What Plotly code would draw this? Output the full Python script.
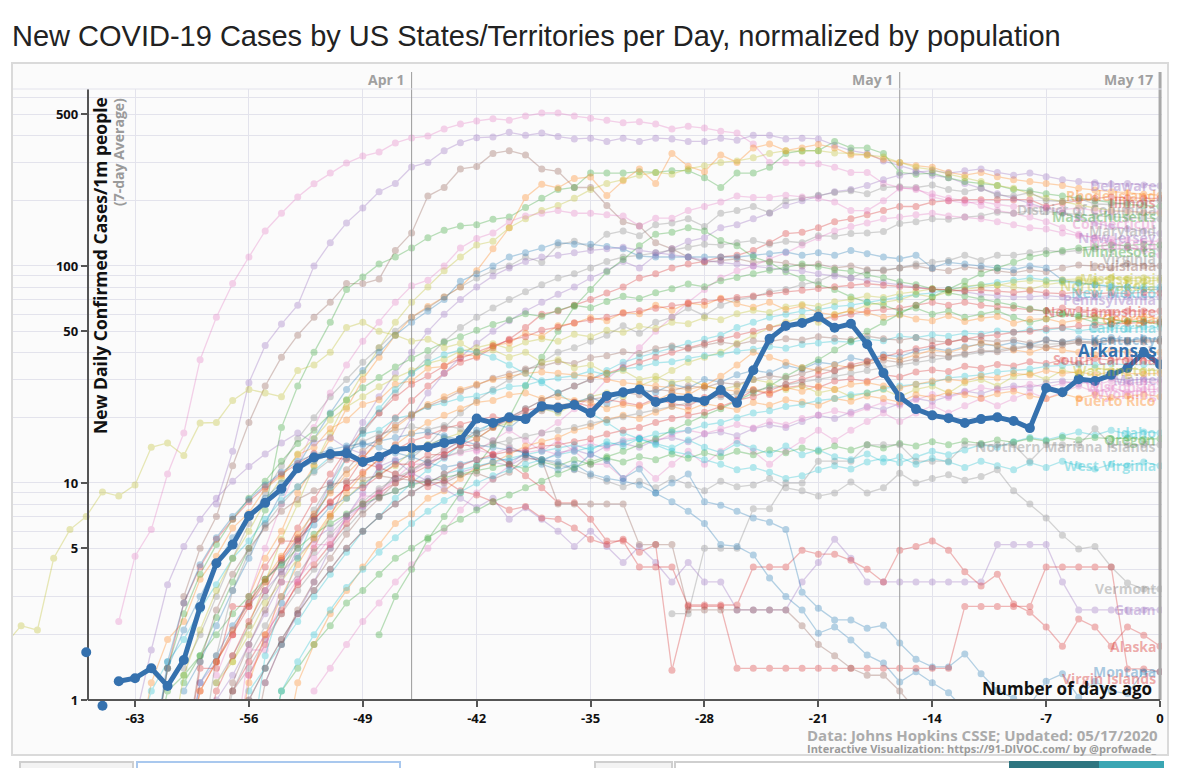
import math
import plotly.graph_objects as go

# ---------------- data ----------------
DAY_TICKS = [-63, -56, -49, -42, -35, -28, -21, -14, -7, 0]
Y_TICKS = [1, 5, 10, 50, 100, 500]
Y_MINOR = [2, 3, 4, 6, 7, 8, 9, 20, 30, 40, 60, 70, 80, 90, 200, 300, 400, 600]
DATE_MARK_DAYS = [-46, -16, 0]
DATE_MARK_TEXT = ["Apr 1", "May 1", "May 17"]

# each series: daily 7-day-average values ending at day 0 (today)
NEW_YORK = [2.3, 4.6, 6.1, 11, 17, 37, 58, 83, 110, 145, 175, 208, 239, 268, 298, 321, 335, 369, 389, 397, 428, 451, 466, 477, 470, 491, 507, 507, 491, 480, 470, 457, 462, 451, 428, 440, 432, 418, 410, 365, 300, 300, 298, 296, 285, 270, 270, 240, 230, 225, 215, 205, 200, 190, 180, 175, 168, 160, 150, 140, 135, 128, 122, 118, 112]
NEW_JERSEY = [8, 14, 29, 43, 54, 66, 100, 128, 158, 185, 220, 240, 286, 300, 340, 370, 390, 393, 413, 400, 410, 395, 385, 388, 375, 388, 375, 388, 385, 375, 375, 388, 380, 400, 400, 385, 388, 385, 360, 340, 330, 305, 290, 275, 262, 255, 240, 228, 215, 205, 195, 185, 175, 166, 158, 152, 148, 145, 141]
LOUISIANA = [3, 5, 7, 12, 19, 28, 38, 48, 58, 68, 83, 83, 87, 118, 142, 210, 230, 280, 287, 330, 340, 325, 280, 273, 230, 230, 190, 160, 153, 128, 120, 110, 104, 106, 108, 104, 105, 103, 100, 102, 98, 100, 96, 95, 98, 100, 97, 95, 99, 97, 95, 93, 96, 94, 98, 101, 100, 98, 102, 100, 100]
MASSACHUSETTS = [1.2, 1.6, 2.4, 3.5, 5, 7.5, 18, 28, 40, 55, 78, 89, 102, 110, 121, 135, 146, 153, 155, 164, 168, 186, 205, 225, 230, 268, 268, 268, 272, 270, 275, 275, 255, 230, 268, 268, 285, 330, 340, 340, 375, 350, 350, 330, 270, 265, 268, 255, 245, 240, 235, 225, 222, 215, 210, 205, 200, 196, 192, 190, 188]
RHODE_ISLAND = [1.5, 2, 3, 4.5, 6, 9, 12, 16, 22, 30, 38, 48, 58, 65, 72, 80, 95, 120, 150, 207, 238, 229, 253, 257, 211, 247, 280, 240, 330, 288, 272, 325, 300, 350, 365, 340, 350, 363, 350, 325, 325, 310, 300, 290, 285, 270, 262, 270, 258, 250, 245, 240, 235, 228, 224, 220, 218, 214, 212]
ILLINOIS = [1.3, 1.8, 2.5, 3.5, 5, 7, 10, 13, 16, 20, 24, 28, 32, 36, 38, 42, 46, 52, 60, 62, 66, 70, 75, 80, 88, 92, 98, 102, 105, 110, 112, 118, 128, 141, 143, 150, 160, 165, 172, 180, 188, 188, 197, 200, 202, 202, 202, 202, 202, 188, 195, 200, 205, 208, 206, 205, 205]
DELAWARE = [1.2, 1.8, 2.5, 3.5, 5, 7, 9, 12, 15, 20, 26, 32, 38, 44, 50, 56, 62, 68, 74, 80, 88, 95, 105, 98, 112, 120, 130, 135, 150, 155, 165, 175, 190, 200, 210, 220, 225, 235, 250, 262, 270, 275, 268, 275, 280, 270, 262, 268, 258, 250, 245, 242, 238, 240, 236, 234]
IOWA = [1.5, 2.2, 3.5, 5.5, 8, 12, 17, 24, 32, 42, 55, 68, 80, 95, 110, 125, 130, 150, 165, 180, 190, 205, 225, 240, 250, 262, 270, 265, 280, 290, 300, 305, 315, 330, 340, 338, 340, 332, 330, 325, 318, 300, 285, 278, 265, 255, 245, 235, 228, 215, 205, 198, 190, 185, 180, 178, 176, 175]
DISTRICT_OF_COLUMBIA = [1.4, 2, 3, 4.5, 6.5, 9, 12, 16, 20, 25, 30, 36, 42, 50, 58, 64, 72, 80, 88, 95, 100, 110, 104, 125, 130, 122, 140, 145, 138, 155, 158, 165, 152, 175, 180, 188, 176, 200, 205, 212, 218, 222, 215, 230, 232, 230, 236, 225, 220, 228, 212, 210, 218, 200, 198, 205, 193, 192, 196, 198, 200]
MARYLAND = [1.2, 1.6, 2.2, 3, 4, 5.5, 7.5, 10, 13, 17, 21, 26, 32, 38, 45, 52, 58, 64, 70, 76, 82, 88, 92, 98, 105, 110, 112, 115, 118, 122, 126, 125, 128, 131, 126, 130, 128, 138, 137, 141, 142, 144, 157, 160, 165, 164, 168, 170, 177, 175, 180, 178, 176, 172, 170, 168, 167, 166, 165]
NEBRASKA = [1.1, 1.4, 1.8, 2.3, 2.8, 3.5, 4.2, 5, 6, 7.5, 9, 10.5, 12, 14, 17, 19, 22, 25, 30, 35, 42, 50, 58, 68, 78, 88, 95, 100, 108, 115, 125, 135, 145, 152, 158, 165, 168, 172, 175, 170, 168, 165, 160, 155, 150, 148, 142, 138, 135, 133, 132, 130, 130]
CONNECTICUT = [1.3, 2, 3, 5, 8, 12, 18, 26, 35, 45, 55, 68, 81, 86, 100, 121, 134, 142, 160, 170, 175, 180, 175, 175, 172, 170, 153, 166, 166, 180, 188, 197, 210, 207, 207, 212, 208, 205, 197, 180, 180, 200, 228, 228, 208, 200, 195, 198, 192, 188, 190, 185, 182, 185, 180, 178, 180, 176, 178]
MICHIGAN = [1.1, 1.5, 2.2, 3.2, 4.5, 6.5, 9, 12, 16, 21, 27, 33, 40, 48, 55, 62, 70, 85, 92, 100, 110, 115, 121, 128, 126, 126, 123, 120, 111, 110, 110, 110, 110, 110, 110, 112, 114, 116, 112, 115, 112, 118, 114, 110, 108, 112, 98, 104, 102, 100, 98, 96, 100, 98, 86, 84, 82, 80, 80, 78, 78]
SOUTH_DAKOTA = [2, 3, 4, 5.5, 7, 9, 12, 15, 20, 28, 38, 50, 65, 78, 94, 107, 124, 140, 143, 150, 145, 131, 124, 110, 104, 94, 88, 82, 78, 72, 68, 66, 62, 64, 60, 62, 58, 60, 62, 58, 55, 57, 60, 58, 55, 54, 56, 55, 54]
VIRGINIA = [1.1, 1.4, 1.9, 2.5, 3.2, 4, 5, 6.2, 7.5, 9, 11, 13, 15, 18, 21, 24, 27, 30, 33, 36, 40, 42, 45, 48, 53, 49, 55, 58, 64, 59, 66, 70, 72, 76, 78, 82, 85, 92, 88, 95, 96, 98, 102, 104, 106, 112, 106, 112, 112, 115, 118, 116, 118, 120, 119, 121, 120, 120]
NORTH_DAKOTA = [1.2, 1.5, 2, 2.8, 3.5, 4.5, 5.5, 7, 8.5, 10, 11, 12, 14, 15, 16, 17, 16, 18, 19, 20, 22, 21, 23, 25, 26, 25, 28, 30, 33, 36, 38, 40, 44, 48, 52, 55, 58, 55, 60, 62, 66, 68, 70, 74, 72, 76, 78, 80, 82, 80, 78, 82, 84, 86, 85, 88, 86, 85, 86]
NEW_MEXICO = [1.1, 1.4, 1.8, 2.3, 3, 3.8, 4.8, 6, 7, 8.5, 10, 11.5, 13, 15, 17, 19, 20, 22, 24, 26, 28, 30, 33, 36, 38, 40, 42, 44, 46, 48, 52, 55, 58, 60, 62, 63, 65, 66, 68, 70, 72, 74, 75, 78, 80, 82, 84, 86, 88, 86, 85, 83, 82, 81, 80, 80, 80]
PENNSYLVANIA = [1, 1.3, 1.8, 2.5, 3.5, 5, 7, 10, 14, 19, 25, 32, 40, 50, 60, 70, 80, 90, 98, 105, 110, 112, 115, 118, 120, 122, 118, 115, 112, 110, 106, 104, 102, 100, 98, 96, 95, 92, 90, 88, 86, 84, 82, 80, 78, 78, 76, 74, 73, 72, 72, 73, 72, 71, 72, 73, 72, 72, 72]
NEW_HAMPSHIRE = [1.1, 1.5, 2, 2.6, 3.4, 4.2, 5.2, 6.5, 8, 9, 10, 11, 12, 13.5, 15, 16, 18, 20, 22, 24, 26, 28, 30, 32, 34, 36, 38, 40, 42, 44, 46, 48, 50, 52, 54, 55, 57, 58, 60, 62, 63, 64, 66, 68, 66, 68, 66, 65, 64, 63, 62, 64, 63, 62, 61, 62, 62, 62]
GEORGIA = [0.5, 1.2, 1.9, 2.3, 3.6, 4.6, 6.2, 7.3, 9.4, 10.8, 13.5, 14.6, 17.8, 19.5, 23, 24.2, 28.5, 29.6, 33.8, 34.5, 39, 38.5, 43, 44.2, 49, 47.5, 53, 54.5, 57.8, 56, 61, 60.2, 66, 62.5, 67.5, 66, 71, 67, 64.5, 68, 63, 65.5, 61, 59.5, 62.5, 60.8, 58, 59.5, 57, 56, 59, 55.5, 57.5, 58.5, 54.5, 56.8, 57.2, 54.8, 56.5, 58.5, 56.5, 55.8, 58.2, 57]
CALIFORNIA = [0.6, 1.1, 1.5, 1.9, 2.6, 3.4, 4.5, 5.4, 6.8, 8.3, 9.6, 11.4, 13.2, 14.5, 16.8, 17.5, 19.8, 20.6, 22.5, 23.4, 24.6, 25.2, 26.5, 27.8, 28.2, 29.6, 30.5, 31.2, 32.8, 31.5, 33.6, 34.2, 35.8, 36.2, 37.5, 38.6, 39.2, 40.5, 41.3, 42.6, 41.8, 43.5, 44.2, 45, 44.6, 46, 45.2, 47.5, 46.8, 48.2, 47.5, 49, 48.5, 50.2, 49.5, 51, 50.5, 51.8, 50.2, 51.5, 52, 51.2, 52.4, 52]
KENTUCKY = [0.5, 1.2, 1.6, 2.2, 2.8, 3.6, 4.3, 5.5, 6.4, 7.8, 8.5, 9.8, 11.2, 12.6, 13.5, 14.8, 16.2, 15.6, 17.5, 18.8, 17.9, 20.5, 22, 21.4, 23.5, 24.8, 23.2, 25.6, 27, 26.2, 28.5, 27.4, 30, 29.2, 31.5, 33, 32.2, 34.8, 33.5, 36, 35.2, 37.8, 36.5, 39, 38.2, 40.5, 41.8, 40.6, 42.5, 43.6, 42.8, 44.5, 43.2, 45.8, 44.6, 46.2, 45.5, 46.8, 45.2, 46.5, 46]
MISSISSIPPI = [0.5, 1.3, 2.1, 3.2, 4.5, 6, 8.2, 10.5, 13.6, 16, 19.5, 22.4, 25, 27.8, 30.5, 33, 35.6, 37.2, 40.5, 42, 43.8, 41.5, 44.6, 46.2, 45, 48.5, 47.2, 50.6, 49.5, 52.8, 51.5, 55, 54.2, 57.8, 56.5, 60.2, 62.5, 61, 64.8, 66.5, 65.2, 68.5, 70.2, 72.8, 71.5, 74.6, 76.2, 78.5, 77.2, 80.6, 82, 81.5, 84.2, 85.6, 84.8, 86.5, 87.2, 86.8, 88.5, 87.6, 88.2, 88]
COLORADO = [0.5, 1.4, 2.5, 3.8, 5.2, 6.8, 8.5, 10.2, 12.6, 15.2, 17.5, 20.8, 24.2, 27.5, 30.6, 34.2, 37.5, 40.8, 44.5, 47.2, 50.6, 53.8, 56.5, 60.2, 58.6, 62.5, 65.8, 64.2, 68.6, 72.5, 70.8, 75.2, 78.5, 82.6, 80.2, 85.5, 88.6, 92.2, 95.5, 98.6, 102, 99.5, 96.2, 94.5, 90.8, 88.2, 84.5, 82, 78.6, 75.2, 72.8, 70.5, 68.2, 65.8, 63.5, 62.2, 60.5, 59.2, 57.8, 56.5, 55.2, 56, 55.4]
INDIANA = [0.5, 1.1, 1.6, 2.3, 3.2, 4.5, 6.2, 8.4, 11, 14.2, 17.5, 21, 24.8, 28.5, 31.2, 34.6, 37.5, 40.2, 42.8, 45.5, 47.2, 50.6, 52.2, 54.8, 56.5, 58, 60.5, 62.2, 63.8, 65.5, 67, 68.6, 70.2, 71.5, 72.8, 74.5, 76, 77.2, 78.8, 80.2, 81.5, 82.8, 81.6, 80.4, 79.5, 78.2, 77.6, 76.8, 77.5, 76.2, 75.5, 76.8, 75.2, 74.6, 75.8, 74.5, 75.2, 74.8, 75.5, 75]
OHIO = [0.5, 1.2, 1.8, 2.6, 3.8, 5.2, 7, 9.2, 11.5, 14, 16.2, 18.5, 20.8, 22.6, 24.2, 26.5, 28.2, 30.4, 31.8, 33.5, 34.6, 36.2, 35.5, 37.8, 38.6, 40.2, 39.5, 41.6, 42.8, 41.5, 43.2, 44.6, 43.5, 45.2, 44.8, 46.2, 45.6, 47.2, 46.5, 45.8, 47.5, 46.2, 45.5, 46.8, 45.2, 44.6, 46.2, 45.5, 44.8, 45.6, 44.2, 45.5, 44.6, 45.2, 44.5, 45.8, 45.2, 44.6, 45]
SOUTH_CAROLINA = [0.5, 1.1, 1.5, 2, 2.7, 3.5, 4.4, 5.6, 6.8, 8.2, 9.5, 11.2, 12.8, 14.2, 15.6, 16.5, 17.8, 18.6, 19.5, 20.2, 19.6, 21.5, 22.4, 21.8, 23.6, 22.5, 24.2, 23.5, 22.8, 24.5, 23.2, 22.6, 24.8, 25.5, 24.2, 26.8, 25.6, 27.5, 28.2, 27.6, 29.5, 30.2, 29.4, 31.6, 30.8, 32.5, 33.2, 32.6, 34.5, 33.8, 35.2, 34.6, 36.2, 35.5, 36.8, 35.6, 37.5, 36.8, 37.2, 36.5, 37]
WASHINGTON = [1.8, 2.2, 2.1, 4.5, 6.1, 7.0, 9.1, 8.7, 9.8, 14.6, 15.3, 13.4, 18.9, 19, 24, 27, 26, 25, 33, 35, 40, 52, 55, 50, 48, 45, 46, 42, 44, 40, 41, 38, 40, 36, 37, 34, 35, 32, 33, 30, 31, 29, 30, 28, 27, 28, 30, 29, 27, 28, 26, 27, 25, 26, 27, 25, 27, 28, 26, 29, 30, 28, 31, 32, 30, 33, 32, 34, 33, 34, 33, 33]
MAINE = [0.5, 1.2, 1.5, 2.1, 2.8, 3.2, 3.9, 4.6, 5.5, 6.2, 7.1, 7.8, 8.6, 9.2, 9.8, 10.5, 10.2, 11.2, 11.8, 12.5, 12, 13.2, 12.6, 13.8, 14.2, 13.5, 14.8, 15.2, 14.6, 15.8, 16.2, 15.5, 16.8, 17.2, 16.5, 17.8, 18.5, 18, 19.2, 20.5, 19.8, 21.2, 22.5, 21.8, 23.2, 24.5, 23.8, 25.2, 26.5, 25.8, 27.2, 28, 27.5, 28.8, 29.5, 28.6, 29.8, 30.5, 29.6, 30.2, 30]
WISCONSIN = [0.5, 1.3, 1.9, 2.8, 3.6, 4.5, 5.6, 6.8, 7.9, 9.2, 10.4, 11.2, 12.5, 13.1, 13.8, 14.2, 13.6, 14.5, 13.8, 14.2, 13.5, 14.6, 15.2, 14.5, 15.8, 16.2, 15.5, 16.8, 17.5, 16.9, 17.8, 18.6, 17.9, 19.2, 18.5, 19.8, 20.6, 21.5, 20.8, 22.2, 23.5, 22.8, 24.2, 25.6, 24.8, 26.2, 27.5, 26.8, 27.2, 28.5, 27.6, 28.8, 29.5, 28.2, 29.6, 28.8, 29.2, 29]
WYOMING = [0.5, 1.7, 1.7, 3.5, 3.5, 5.2, 5.2, 7, 8.7, 8.7, 10.5, 12.2, 12.2, 14, 15.7, 14, 15.7, 17.5, 15.7, 14, 15.7, 14, 12.2, 12.2, 10.5, 12.2, 10.5, 12.2, 14, 12.2, 14, 15.7, 14, 12.2, 14, 15.7, 17.5, 15.7, 17.5, 19.2, 21, 19.2, 21, 22.7, 21, 22.7, 24.5, 22.7, 24.5, 26.2, 24.5, 26.2, 28, 26.2, 27.5, 26.2, 27, 27]
PUERTO_RICO = [0.5, 1.2, 1.8, 2.5, 3.2, 4.1, 5.2, 6.5, 7.2, 8.5, 9.2, 10.5, 11.8, 12.4, 13.5, 14.8, 15.5, 16.2, 17.5, 18.2, 19.6, 20.5, 19.8, 21.2, 22.5, 21.6, 23.2, 22.5, 21.8, 23.5, 22.8, 24.2, 23.6, 22.8, 24.5, 23.8, 25.2, 24.5, 23.6, 25.5, 24.8, 26.2, 25.5, 24.6, 25.8, 26.5, 25.2, 24.5, 25.8, 24.6, 25.5, 24.8, 25.2, 25.6, 25]
IDAHO = [0.5, 1.6, 2.8, 4.5, 6.8, 9.5, 13, 17.5, 22, 27, 32, 36, 39, 41, 40, 38, 35, 32, 29, 26, 23, 21, 19, 17, 16, 15, 14, 13.5, 12.8, 12.2, 11.5, 11.8, 11.2, 10.5, 10.8, 11.5, 12, 11.6, 12.5, 13, 12.4, 13.2, 14, 13.5, 14.2, 15, 14.6, 15.5, 16.2, 15.8, 16.5, 17.2, 16.6, 17.5, 16.8, 17.2, 17]
OREGON = [0.5, 1.1, 1.3, 1.6, 2, 2.5, 3, 3.6, 4.2, 5, 5.8, 6.5, 7.2, 8, 8.6, 9.2, 9.8, 10.2, 10.6, 11, 11.4, 11.8, 12.2, 11.6, 12.5, 12, 12.8, 12.2, 13, 12.5, 13.2, 12.8, 13.6, 13, 13.8, 13.2, 14, 13.5, 14.2, 13.8, 14.5, 14, 14.8, 14.2, 15, 14.5, 15.2, 14.8, 15.5, 15, 15.6, 15.2, 15.8, 15.4, 16, 15.6, 16.2, 15.8, 16.2, 16, 16.1, 15.9, 16]
NORTHERN_MARIANA = [2.5, 2.5, 5, 5, 5, 7.6, 7.6, 10, 10, 12.6, 12.6, 12.6, 15, 15, 15, 12.6, 12.6, 12.6, 15, 15, 15, 15, 12.6, 15, 15, 15, 17.8, 15, 15, 15, 15]
WEST_VIRGINIA = [0.5, 1, 1.4, 1.9, 2.5, 3.2, 4, 5, 6, 7, 8, 9, 10, 11, 11.5, 12, 12.5, 13, 13.5, 14, 14.5, 15, 14.2, 15.5, 14.8, 16, 15.2, 14.5, 15.8, 14.6, 13.8, 15.2, 14.5, 13.6, 14.8, 13.5, 14.2, 13.2, 12.8, 13.6, 12.5, 13.2, 12.2, 13, 12.5, 11.8, 12.6, 12, 11.5, 12.4, 11.8, 12.6, 12, 11.6, 12.2, 12, 12.5, 12]
VERMONT = [0.5, 1.6, 3.2, 4.8, 6.4, 8, 9.6, 11.2, 12.8, 14.4, 15.5, 16.8, 17.5, 18.2, 17.6, 18.4, 17.8, 16.8, 15.6, 14.8, 13.6, 12.8, 12.2, 11.5, 10.8, 10.2, 9.6, 10.2, 9.5, 10.5, 9.8, 9.2, 10.2, 9.6, 9.8, 10.5, 9.5, 9.2, 8.7, 9.0, 10.1, 9.0, 9.5, 11.1, 10, 10.5, 10.9, 10.3, 10.7, 11.5, 9.2, 8, 6.9, 5.75, 4.97, 5.1, 4.1, 3.46, 3.25, 3.25]
GUAM = [0.8, 1.7, 3.4, 5.1, 6.8, 8.5, 10.2, 11.9, 13.6, 15.3, 17, 15.3, 16.2, 14.5, 13.6, 11.9, 12.8, 11.1, 10.2, 9.4, 8.5, 7.7, 8.5, 6.8, 7.7, 6.8, 6, 5.1, 6, 5.1, 4.3, 5.1, 4.3, 3.5, 4.3, 3.5, 3.5, 2.6, 2.6, 2.6, 2.6, 3.5, 4.3, 5.5, 4.5, 3.5, 3.5, 3.5, 3.5, 3.5, 3.5, 3.5, 3.5, 5.2, 5.2, 5.2, 5.2, 3.5, 2.6, 2.6, 2.6, 2.6, 2.6, 2.6]
ALASKA = [0.5, 1.4, 2.8, 4.1, 5.5, 6.8, 8.2, 9.6, 11, 12.3, 13.7, 13.2, 12.8, 12.3, 11.8, 11, 10.5, 9.6, 10.3, 9.2, 8.8, 8.2, 7.5, 7.8, 6.9, 6.8, 6.2, 5.5, 5.2, 5.5, 4.8, 5.2, 1.37, 2.74, 2.74, 2.74, 2.74, 4.1, 4.1, 4.1, 4.9, 4.7, 4.7, 4.4, 4.0, 3.5, 4.9, 5.1, 5.4, 4.9, 3.9, 3.35, 3.8, 2.77, 2.54, 2.17, 1.77, 2.36, 2.17, 1.77, 2.17, 1.99, 1.77]
MONTANA = [0.5, 1.5, 2.8, 4.2, 5.6, 7, 8.4, 9.8, 11.2, 12.6, 13.5, 14.2, 14.8, 15.2, 14.6, 13.8, 13.2, 12.4, 11.8, 12.2, 12.8, 13.2, 12.6, 13.5, 12.8, 12.5, 11.6, 13.6, 12.7, 10.5, 11.6, 9.0, 10, 11, 8.2, 7.9, 7.4, 6.9, 6.6, 6.1, 3.14, 2.65, 2.34, 2.34, 2.14, 2.21, 1.83, 1.54, 1.42, 1.42, 1.63, 1.32, 1.11, 1.02, 0.95, 1.22, 1.32, 1.03, 1.22, 1.1, 1.07, 1.35, 1.35]
HAWAII = [0.5, 1.4, 2.1, 3, 4.2, 5.6, 7, 8.5, 10, 11.5, 12.6, 13.5, 14.2, 15, 15.6, 16.2, 16.8, 17.2, 16.5, 15.8, 15, 14.6, 14.2, 13.8, 12.2, 11.5, 12.2, 11.0, 10.5, 10.2, 9.8, 9.0, 8.2, 7.4, 6.5, 5.2, 5.1, 4.66, 3.65, 3.0, 2.6, 2.03, 2.17, 1.89, 1.61, 1.48, 1.21, 1.35, 1.2, 1.08, 0.9, 0.8, 0.7, 0.75, 0.6, 0.7, 0.65, 0.6, 0.7, 0.6, 0.55, 0.6, 0.5]
VIRGIN_ISLANDS = [0.5, 1.4, 1.4, 2.7, 2.7, 4.1, 5.4, 5.4, 6.8, 8.1, 9.5, 9.5, 10.8, 12.2, 12.2, 13.5, 13.5, 14.9, 14.9, 13.5, 12.2, 10.8, 9.5, 8.1, 8.1, 6.8, 5.4, 5.4, 4.1, 4.1, 4.1, 2.7, 2.7, 2.7, 1.4, 1.4, 1.4, 1.4, 1.4, 1.4, 1.4, 1.4, 1.4, 1.4, 1.4, 1.4, 1.4, 1.4, 2.7, 2.7, 2.7, 2.7, 2.7, 4.1, 4.1, 4.1, 4.1, 4.1, 1.39, 1.39, 1.35]
ALABAMA = [0.5, 1.5, 2.6, 3.8, 5, 6.2, 7.4, 8.4, 9.2, 9.8, 10.2, 10.5, 10.8, 10.5, 10.3, 10.1, 10, 10.9, 11.1, 10.4, 11.2, 13.0, 12.8, 8, 8, 8, 8, 8, 5.2, 5.2, 5.2, 2.6, 2.6, 2.6, 2.6, 2.6, 2.6, 2.6, 2.2, 1.8, 1.6, 1.4, 1.3, 1.3, 1.1, 0.9, 0.8, 0.8, 0.7, 0.6, 0.6, 0.7, 0.6, 0.5, 0.5, 0.6, 0.5, 0.5, 0.5, 0.5, 0.5]
MINNESOTA = [0.5, 1.1, 1.4, 1.8, 2.2, 2.8, 3.2, 3.8, 4.5, 5, 5.6, 6.2, 6.8, 7.5, 8.2, 8.8, 9.5, 10.2, 11, 11.8, 12.5, 13.2, 14, 15, 16, 17.5, 19, 20.5, 22, 24, 26, 28, 31, 34, 37, 41, 45, 50, 55, 60, 66, 72, 78, 85, 92, 98, 104, 110, 114, 118, 121, 123, 125, 124, 126, 125]
TENNESSEE = [0.5, 1.2, 2, 3, 4.2, 5.6, 7.2, 9, 11, 13, 15, 17, 19, 20.5, 22, 23.5, 24, 25.5, 26, 24.5, 25, 24, 23.5, 22, 23, 22.5, 24, 26, 25.5, 28, 31, 35, 40, 38, 36, 34, 33, 35, 34, 36, 38, 37, 39, 41, 40, 42, 44, 43, 41, 40, 42, 41, 40, 39, 41, 40, 40, 40]
TEXAS = [0.5, 1.1, 1.5, 2, 2.6, 3.3, 4, 4.8, 5.6, 6.5, 7.4, 8.3, 9.1, 10, 10.8, 11.5, 12.2, 12.8, 13.5, 14, 14.6, 15, 15.5, 16, 16.8, 17.2, 17.5, 18.5, 19, 20, 21, 21.5, 22.5, 23, 24, 24.5, 25.5, 26, 27.2, 28, 28.5, 29, 30.5, 31, 31.5, 32.5, 33, 33.5, 34.5, 34.8, 35.2, 35, 35.5, 35, 35.2, 35]
FLORIDA = [0.5, 1.1, 1.5, 2.1, 2.8, 3.6, 4.6, 5.8, 7.2, 9, 11, 13, 15.5, 18, 20.5, 23, 25, 27, 28.5, 30, 31, 32, 32.5, 32, 31.5, 31, 30, 29, 28.5, 28, 27.5, 27, 28, 27, 26.5, 27, 26, 27.5, 26.5, 28, 27, 28.5, 29, 28, 27.5, 28.5, 29.5, 30, 29.5, 31, 30.5, 32, 31.5, 33, 32, 32.5, 31.5, 32.5, 32, 31.8, 32]
ARIZONA = [0.5, 1, 1.4, 1.9, 2.5, 3.2, 4, 5, 6, 7, 8, 9, 10, 11, 12, 12.8, 13.5, 14, 14.2, 14.8, 15, 15.5, 16, 16.8, 17.5, 18, 19, 19.8, 20.5, 21.2, 22.5, 24, 25, 26.8, 28.5, 30, 31.5, 33, 35, 36.5, 38, 40, 41.5, 43, 44.5, 46, 47.5, 48.2, 49.5, 50, 51.5, 52, 53, 53.5, 54, 54.5, 55, 55]
UTAH = [0.5, 1.2, 1.8, 2.6, 3.5, 4.5, 5.8, 7.2, 8.5, 10, 11.5, 12.8, 14.2, 15.5, 17, 18.2, 19.5, 20.5, 21.5, 22.8, 23.5, 24.2, 25, 26.2, 25.5, 27, 26.5, 28, 27.5, 29, 28.5, 30, 31.2, 30.5, 32, 33.5, 32.8, 34.5, 35.2, 36.8, 36, 37.5, 38.8, 38.2, 39.5, 40.8, 40.2, 41.5, 42.6, 42, 43.2, 44.5, 43.8, 45.2, 44.5, 45.5, 45]
NORTH_CAROLINA = [0.5, 1.1, 1.6, 2.2, 3, 3.8, 4.8, 5.8, 7, 8.2, 9.4, 10.5, 11.5, 12.4, 13.2, 14, 14.6, 15.2, 15.8, 16.4, 17, 17.5, 18, 18.8, 19.5, 20.2, 21, 21.8, 22.6, 23.4, 24.2, 25, 25.8, 26.6, 27.5, 28.4, 29.2, 30, 31, 32, 33, 34, 35, 36, 37, 38, 39, 40, 41, 42, 43, 43.5, 44, 44.5, 45, 45.2, 45.5, 45.8, 46]

ARKANSAS_FIRST_DAY = -66
ARKANSAS = [1.66, 0.94, 1.22, 1.26, 1.40, 1.16, 1.53, 2.68, 4.27, 5.2, 7.05, 8.1, 9.4, 11.7, 13.1, 13.6, 13.7, 12.5, 13.2, 14.3, 14.5, 14.6, 15.3, 15.8, 19.8, 18.9, 20.1, 19.7, 22.6, 22.2, 22.9, 21.0, 25.2, 26.2, 27.0, 23.6, 24.6, 24.6, 23.9, 26.8, 23.4, 33.1, 46.2, 52.9, 54.6, 58.3, 51.9, 54.2, 43.6, 32.1, 24.9, 21.9, 20.5, 19.9, 18.9, 19.7, 20.1, 19.3, 17.9, 27.4, 26.2, 30.1, 29.5, 31.5, 33.9, 39.9, 35.2]
ARKANSAS_LINE_FROM = -64

SERIES = [
    ("New York", NEW_YORK), ("New Jersey", NEW_JERSEY), ("Louisiana", LOUISIANA),
    ("Massachusetts", MASSACHUSETTS), ("Rhode Island", RHODE_ISLAND), ("Illinois", ILLINOIS),
    ("Delaware", DELAWARE), ("Iowa", IOWA), ("District of Columbia", DISTRICT_OF_COLUMBIA),
    ("Maryland", MARYLAND), ("Nebraska", NEBRASKA), ("Connecticut", CONNECTICUT),
    ("Michigan", MICHIGAN), ("South Dakota", SOUTH_DAKOTA), ("Virginia", VIRGINIA),
    ("North Dakota", NORTH_DAKOTA), ("New Mexico", NEW_MEXICO), ("Pennsylvania", PENNSYLVANIA),
    ("New Hampshire", NEW_HAMPSHIRE), ("Georgia", GEORGIA), ("California", CALIFORNIA),
    ("Kentucky", KENTUCKY), ("Mississippi", MISSISSIPPI), ("Colorado", COLORADO),
    ("Indiana", INDIANA), ("Ohio", OHIO), ("South Carolina", SOUTH_CAROLINA),
    ("Washington", WASHINGTON), ("Maine", MAINE), ("Wisconsin", WISCONSIN),
    ("Wyoming", WYOMING), ("Puerto Rico", PUERTO_RICO), ("Idaho", IDAHO),
    ("Oregon", OREGON), ("Northern Mariana Islands", NORTHERN_MARIANA),
    ("West Virginia", WEST_VIRGINIA), ("Vermont", VERMONT), ("Guam", GUAM),
    ("Alaska", ALASKA), ("Montana", MONTANA), ("Hawaii", HAWAII),
    ("Virgin Islands", VIRGIN_ISLANDS), ("Alabama", ALABAMA), ("Minnesota", MINNESOTA),
    ("Tennessee", TENNESSEE), ("Texas", TEXAS), ("Florida", FLORIDA),
    ("Arizona", ARIZONA), ("Utah", UTAH), ("North Carolina", NORTH_CAROLINA),
]

LABELLED = ["Delaware", "Rhode Island", "Illinois", "District of Columbia", "Massachusetts",
            "Connecticut", "Maryland", "New Jersey", "Minnesota", "Nebraska", "Virginia",
            "Louisiana", "Mississippi", "North Dakota", "New Mexico", "Pennsylvania",
            "Georgia", "New Hampshire", "California", "Kentucky", "South Carolina",
            "Washington", "Maine", "Wisconsin", "Wyoming", "Puerto Rico", "Idaho", "Oregon",
            "Northern Mariana Islands", "West Virginia", "Vermont", "Guam", "Alaska",
            "Montana", "Virgin Islands"]

# ---------------- styles ----------------
C10 = {"blue": "#1f77b4", "orange": "#ff7f0e", "green": "#2ca02c", "red": "#d62728",
       "purple": "#9467bd", "brown": "#8c564b", "pink": "#e377c2", "grey": "#7f7f7f",
       "olive": "#bcbd22", "cyan": "#17becf"}
COLOR_OF = {
    "New York": "pink", "New Jersey": "purple", "Louisiana": "brown", "Massachusetts": "green",
    "Rhode Island": "orange", "Illinois": "red", "Delaware": "purple", "Iowa": "olive",
    "District of Columbia": "grey", "Maryland": "grey", "Nebraska": "pink", "Connecticut": "pink",
    "Michigan": "blue", "South Dakota": "green", "Virginia": "grey", "North Dakota": "olive",
    "New Mexico": "cyan", "Pennsylvania": "purple", "New Hampshire": "red", "Georgia": "orange",
    "California": "cyan", "Kentucky": "blue", "Mississippi": "olive", "Colorado": "green",
    "Indiana": "red", "Ohio": "brown", "South Carolina": "red", "Washington": "olive",
    "Maine": "purple", "Wisconsin": "pink", "Wyoming": "pink", "Puerto Rico": "orange",
    "Idaho": "cyan", "Oregon": "green", "Northern Mariana Islands": "grey",
    "West Virginia": "cyan", "Vermont": "grey", "Guam": "purple", "Alaska": "red",
    "Montana": "blue", "Hawaii": "blue", "Virgin Islands": "red", "Alabama": "brown",
    "Minnesota": "green", "Tennessee": "orange", "Texas": "cyan", "Florida": "orange",
    "Arizona": "red", "Utah": "brown", "North Carolina": "grey",
}
ARK_COLOR = "#3571ae"
GRID = "#e3e3ec"
AXIS = "#555555"
FONT = "Open Sans"


def rgba(hexc, a):
    h = hexc.lstrip("#")
    return "rgba(%d,%d,%d,%.2f)" % (int(h[0:2], 16), int(h[2:4], 16), int(h[4:6], 16), a)


# ---------------- geometry ----------------
W, H = 1200, 768
ML, MR, MT, MB = 13, 38, 89, 68
X_MIN, X_MAX = -70.5, 0.12
Y_TOP = 654
Y_AXIS_DAY = -65.9
PLOT_H = H - MT - MB
PLOT_W = W - ML - MR
PPD = PLOT_H / math.log10(Y_TOP)  # pixels per decade
BOTTOM_PX = H - MB


def px_to_paper_y(py):
    return (BOTTOM_PX - py) / PLOT_H


def px_to_paper_x(px):
    return (px - ML) / PLOT_W


fig = go.Figure()

for name, vals in SERIES:
    days = list(range(1 - len(vals), 1))
    c = C10[COLOR_OF[name]]
    fig.add_trace(go.Scatter(
        x=days, y=vals, mode="lines+markers", name=name,
        line=dict(color=c, width=1.3), marker=dict(color=c, size=7),
        opacity=0.32, hoverinfo="skip", showlegend=False))

annotations = []
shapes = []

ark_days = list(range(ARKANSAS_FIRST_DAY, ARKANSAS_FIRST_DAY + len(ARKANSAS)))
line_days = [d for d in ark_days if d >= ARKANSAS_LINE_FROM]
line_vals = [v for d, v in zip(ark_days, ARKANSAS) if d >= ARKANSAS_LINE_FROM]
fig.add_trace(go.Scatter(x=line_days, y=line_vals, mode="lines+markers", name="Arkansas",
                         line=dict(color=ARK_COLOR, width=5), marker=dict(color=ARK_COLOR, size=10),
                         showlegend=False, hoverinfo="skip"))
# early, unconnected Arkansas points (one lies below the axis floor, so draw as pixel circles)
for d, v in zip(ark_days, ARKANSAS):
    if d < ARKANSAS_LINE_FROM:
        shapes.append(dict(type="circle", xref="x", yref="paper", xsizemode="pixel",
                           ysizemode="pixel", xanchor=d, yanchor=math.log10(v) / math.log10(Y_TOP),
                           x0=-5, x1=5, y0=-5, y1=5, fillcolor=ARK_COLOR,
                           line=dict(color=ARK_COLOR, width=0)))

# state labels at right edge, with simple overlap avoidance
ends = dict(SERIES)
labs = []
for name in LABELLED:
    v = ends[name][-1]
    labs.append([name, BOTTOM_PX - PPD * math.log10(v)])
labs.sort(key=lambda t: t[1])
for i in range(1, len(labs)):
    if labs[i][1] - labs[i - 1][1] < 7:
        labs[i][1] = labs[i - 1][1] + 7
for name, py in labs:
    annotations.append(dict(
        x=0, y=(BOTTOM_PX - py) / PPD, xref="x", yref="y", xanchor="right", yanchor="middle",
        xshift=-2, text=name, showarrow=False,
        font=dict(family=FONT, size=14, weight=700, color=rgba(C10[COLOR_OF[name]], 0.40))))

annotations.append(dict(x=0, y=math.log10(ARKANSAS[-1]), xref="x", yref="y", xanchor="right",
                        yanchor="bottom", xshift=-1, yshift=0, text="Arkansas", showarrow=False,
                        font=dict(family=FONT, size=17, weight=700, color=ARK_COLOR)))

# date marker lines
for d, t in zip(DATE_MARK_DAYS, DATE_MARK_TEXT):
    wide = d == 0
    shapes.append(dict(type="line", xref="x", yref="paper", x0=d, x1=d,
                       y0=0, y1=px_to_paper_y(72),
                       line=dict(color="#a8a8a8" if wide else "#9a9a9a", width=3 if wide else 1)))
    annotations.append(dict(x=d, y=px_to_paper_y(80), xref="x", yref="paper", xanchor="right",
                            yanchor="middle", xshift=-5, text=t, showarrow=False,
                            font=dict(family=FONT, size=14, weight=700, color="#a0a0a0")))

# x axis line (from the y axis to the right edge) and top border
shapes.append(dict(type="line", xref="x", yref="paper", x0=Y_AXIS_DAY, x1=0, y0=0, y1=0,
                   line=dict(color=AXIS, width=2)))
shapes.append(dict(type="line", xref="paper", yref="paper", x0=0, x1=1, y0=1, y1=1,
                   line=dict(color=GRID, width=1)))

# outer chart box
shapes.append(dict(type="rect", xref="paper", yref="paper", layer="below",
                   x0=px_to_paper_x(12), x1=px_to_paper_x(1168),
                   y0=px_to_paper_y(755), y1=px_to_paper_y(63),
                   fillcolor="#fbfbfb", line=dict(color="#dadada", width=2)))

# partially visible buttons under the chart
for x0, x1, fill, border in [(20, 133, "#f3f3f3", "#cfcfcf"), (137, 400, "#ffffff", "#a9c8ee"),
                              (595, 672, "#f3f3f3", "#cfcfcf"), (675, 1010, "#ffffff", "#cfcfcf"),
                              (1010, 1100, "#2e7580", "#2e7580"), (1100, 1163, "#3aa6b3", "#3aa6b3")]:
    shapes.append(dict(type="rect", xref="paper", yref="paper", layer="below",
                       x0=px_to_paper_x(x0), x1=px_to_paper_x(x1),
                       y0=px_to_paper_y(775), y1=px_to_paper_y(762),
                       fillcolor=fill, line=dict(color=border, width=2)))

# axis titles and credits
annotations.append(dict(x=px_to_paper_x(100), y=px_to_paper_y(266), xref="paper", yref="paper",
                        text="New Daily Confirmed Cases/1m people", textangle=-90, showarrow=False,
                        xanchor="center", yanchor="middle",
                        font=dict(family=FONT, size=17.5, weight=700, color="#111111")))
annotations.append(dict(x=px_to_paper_x(118), y=px_to_paper_y(152), xref="paper", yref="paper",
                        text="(7-day Average)", textangle=-90, showarrow=False,
                        xanchor="center", yanchor="middle",
                        font=dict(family=FONT, size=14, weight=700, color="#9a9a9a")))
annotations.append(dict(x=px_to_paper_x(1154), y=px_to_paper_y(688), xref="paper", yref="paper",
                        text="Number of days ago", showarrow=False, xanchor="right", yanchor="middle",
                        font=dict(family=FONT, size=17, weight=700, color="#111111")))
annotations.append(dict(x=px_to_paper_x(1160), y=px_to_paper_y(735), xref="paper", yref="paper",
                        text="Data: Johns Hopkins CSSE; Updated: 05/17/2020", showarrow=False,
                        xanchor="right", yanchor="middle",
                        font=dict(family=FONT, size=15, weight=700, color="#ababab")))
annotations.append(dict(x=px_to_paper_x(1158), y=px_to_paper_y(748), xref="paper", yref="paper",
                        text="Interactive Visualization: https://91-DIVOC.com/ by @profwade_",
                        showarrow=False, xanchor="right", yanchor="middle",
                        font=dict(family=FONT, size=11, weight=700, color="#9a9a9a")))

fig.update_layout(
    width=W, height=H, margin=dict(l=ML, r=MR, t=MT, b=MB),
    paper_bgcolor="white", plot_bgcolor="rgba(0,0,0,0)",
    font=dict(family=FONT, color="#111111"), showlegend=False,
    title=dict(text="New COVID-19 Cases by US States/Territories per Day, normalized by population",
               x=12 / W, xanchor="left", xref="container", y=1 - 36 / H, yanchor="middle",
               yref="container", font=dict(family="Liberation Sans", size=29, color="#222222")),
    xaxis=dict(range=[X_MIN, X_MAX], tickvals=DAY_TICKS, ticktext=[str(d) for d in DAY_TICKS],
               showgrid=True, gridcolor=GRID, gridwidth=1, zeroline=False, showline=False,
               ticks="outside", ticklen=6, tickwidth=2, tickcolor=AXIS,
               tickfont=dict(family=FONT, size=13, weight=700, color="#111111")),
    yaxis=dict(type="log", range=[0, math.log10(Y_TOP)], tickvals=Y_TICKS,
               ticktext=[str(v) for v in Y_TICKS], anchor="free",
               position=(Y_AXIS_DAY - X_MIN) / (X_MAX - X_MIN),
               showline=True, linecolor=AXIS, linewidth=2, ticks="outside", ticklen=6,
               tickwidth=2, tickcolor=AXIS, showgrid=True, gridcolor=GRID, gridwidth=1,
               zeroline=False,
               minor=dict(tickmode="array", tickvals=Y_MINOR, showgrid=True, gridcolor=GRID,
                          ticks=""),
               tickfont=dict(family=FONT, size=13, weight=700, color="#111111")),
    annotations=annotations, shapes=shapes,
)

fig.write_html("out.html", config={"displayModeBar": False},
               post_script="document.body.style.margin='0';document.body.style.overflow='hidden';")
